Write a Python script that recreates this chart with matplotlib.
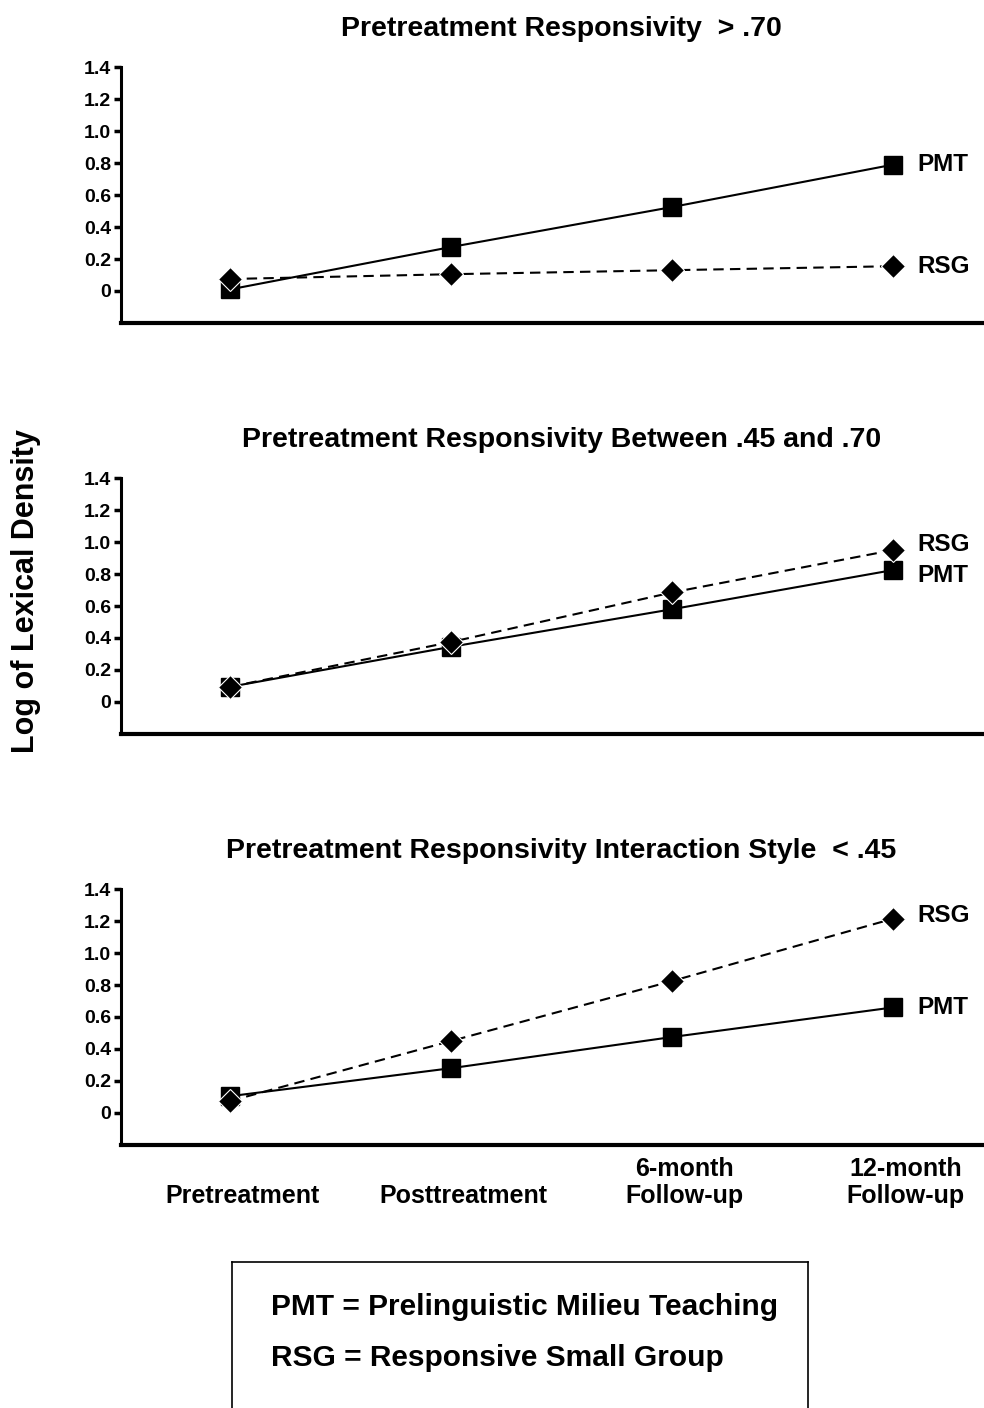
import numpy as np
import matplotlib.pyplot as plt
from matplotlib.transforms import ScaledTranslation

plt.rcParams['font.family'] = ['Liberation Sans', 'DejaVu Sans']
plt.rcParams['font.weight'] = 'bold'

stages = ['Pretreatment', 'Posttreatment', '6-month\nFollow-up', '12-month\nFollow-up']
titles = ['Pretreatment Responsivity  > .70',
          'Pretreatment Responsivity Between .45 and .70',
          'Pretreatment Responsivity Interaction Style  < .45']
pmt = [[0.01, 0.275, 0.525, 0.79],
       [0.095, 0.345, 0.58, 0.825],
       [0.105, 0.28, 0.475, 0.66]]
rsg = [[0.075, 0.105, 0.13, 0.155],
       [0.095, 0.375, 0.685, 0.95],
       [0.075, 0.45, 0.825, 1.215]]
yticks = [0, 0.2, 0.4, 0.6, 0.8, 1.0, 1.2, 1.4]
ytick_labels = ['0', '0.2', '0.4', '0.6', '0.8', '1.0', '1.2', '1.4']
# label offsets (points) for PMT / RSG end labels
pmt_off = [0, -4, 0]
rsg_off = [0, 4, 2]

fig = plt.figure(figsize=(9.84, 14.08), dpi=100)
bottoms = [0.7706, 0.4787, 0.1868]
x = np.arange(4)

for i in range(3):
    ax = fig.add_axes([0.123, bottoms[i], 0.877, 0.1818])
    ax.plot(x, pmt[i], color='black', lw=1.5, marker='s', ms=12.5,
            mec='black', mfc='black', zorder=3)
    ax.plot(x, rsg[i], color='black', lw=1.5, ls=(0, (5, 3)), marker='D', ms=12,
            mec='white', mew=0.8, mfc='black', zorder=4)
    ax.annotate('PMT', (x[-1], pmt[i][-1]), xytext=(17, pmt_off[i]),
                textcoords='offset points', va='center', ha='left',
                fontsize=17.5, fontweight='bold')
    ax.annotate('RSG', (x[-1], rsg[i][-1]), xytext=(17, rsg_off[i]),
                textcoords='offset points', va='center', ha='left',
                fontsize=17.5, fontweight='bold')
    ax.set_xlim(-0.493, 3.41)
    ax.set_ylim(-0.2, 1.4)
    ax.set_yticks(yticks)
    ax.set_yticklabels(ytick_labels, fontsize=14, fontweight='bold')
    ax.tick_params(axis='y', direction='out', length=5, width=2.5, pad=2)
    ax.spines['top'].set_visible(False)
    ax.spines['right'].set_visible(False)
    ax.spines['left'].set_linewidth(2.2)
    ax.spines['bottom'].set_linewidth(3)
    ax.set_title(titles[i], fontsize=20.5, fontweight='bold', pad=22, x=0.51)
    if i == 2:
        ax.set_xticks(x)
        ax.set_xticklabels(['\n' + s if '\n' not in s else s for s in stages],
                           fontsize=18, fontweight='bold', linespacing=1.15)
        ax.tick_params(axis='x', length=0, pad=9)
        for lab in ax.get_xticklabels():
            lab.set_transform(lab.get_transform() +
                              ScaledTranslation(0.12, 0, fig.dpi_scale_trans))
    else:
        ax.set_xticks([])

fig.text(0.026, 0.58, 'Log of Lexical Density', rotation=90, ha='center', va='center',
         fontsize=22, fontweight='bold')

legend_ax = fig.add_axes([0.236, -0.01, 0.585, 0.114])
legend_ax.set_xticks([])
legend_ax.set_yticks([])
for s in legend_ax.spines.values():
    s.set_linewidth(1.2)
legend_ax.text(0.068, 0.72, 'PMT = Prelinguistic Milieu Teaching', fontsize=21.5,
               fontweight='bold', va='center', ha='left', transform=legend_ax.transAxes)
legend_ax.text(0.068, 0.40, 'RSG = Responsive Small Group', fontsize=21.5,
               fontweight='bold', va='center', ha='left', transform=legend_ax.transAxes)

fig.savefig('out.png', dpi=100)
